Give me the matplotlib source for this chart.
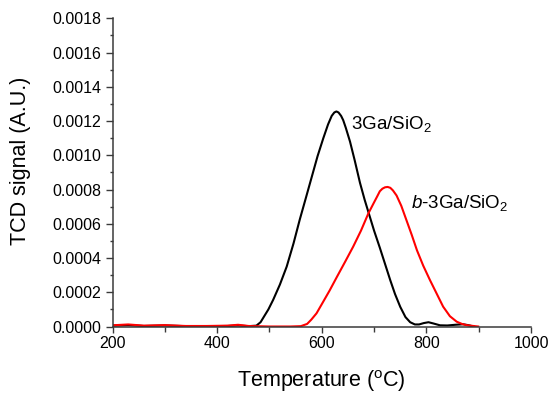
import matplotlib
matplotlib.use("Agg")
import matplotlib.pyplot as plt
import numpy as np
from matplotlib.ticker import MultipleLocator, FormatStrFormatter

plt.rcParams['font.family'] = ['Liberation Sans', 'DejaVu Sans']
plt.rcParams['mathtext.fontset'] = 'custom'
plt.rcParams['mathtext.rm'] = 'Liberation Sans'
plt.rcParams['mathtext.it'] = 'Liberation Sans:italic'

# 3Ga/SiO2 (black)
temp_a = [200, 230, 260, 300, 340, 380, 420, 440, 460, 475, 483, 490, 498, 507, 520,
          533, 546, 558, 570, 581, 592, 603, 612, 619, 624, 628, 632, 637, 641, 646,
          650, 654, 663, 673, 682, 690, 700, 711, 721, 731, 740, 750, 760, 769, 778,
          786, 795, 804, 813, 826, 840, 855, 870, 880, 890]
tcd_a = [0.05, 0.08, 0.03, 0.06, 0.02, 0.02, 0.03, 0.06, 0.02, 0.05, 0.25, 0.6, 1.0, 1.55, 2.45,
         3.5, 4.85, 6.25, 7.55, 8.75, 9.95, 11.0, 11.8, 12.3, 12.5, 12.56, 12.5, 12.3, 12.05, 11.6,
         11.2, 10.8, 9.7, 8.4, 7.4, 6.6, 5.6, 4.6, 3.65, 2.7, 1.9, 1.15, 0.55, 0.25, 0.12,
         0.12, 0.2, 0.25, 0.18, 0.07, 0.06, 0.1, 0.13, 0.08, 0.0]

# b-3Ga/SiO2 (red)
temp_b = [200, 230, 260, 300, 340, 380, 420, 440, 460, 500, 540, 560, 572, 580, 590,
          600, 615, 629, 645, 660, 675, 689, 700, 706, 711, 716, 721, 726, 731, 736,
          743, 752, 762, 772, 782, 794, 807, 820, 832, 845, 858, 868, 877, 890, 899]
tcd_b = [0.07, 0.12, 0.05, 0.08, 0.03, 0.03, 0.05, 0.1, 0.03, 0.0, 0.0, 0.02, 0.15, 0.4, 0.77,
         1.3, 2.1, 2.9, 3.8, 4.66, 5.6, 6.6, 7.25, 7.6, 7.9, 8.05, 8.13, 8.15, 8.1, 7.95,
         7.65, 7.05, 6.2, 5.35, 4.45, 3.55, 2.7, 1.9, 1.16, 0.6, 0.28, 0.15, 0.08, 0.03, 0.0]

scale = 1e-4

fig = plt.figure(figsize=(5.48, 3.96), dpi=100)
ax = fig.add_axes([0.2053, 0.1755, 0.969 - 0.2053, 0.9538 - 0.1755])

ax.plot(temp_a, np.array(tcd_a) * scale, color='black', lw=1.5)
ax.plot(temp_b, np.array(tcd_b) * scale, color='#ff0000', lw=1.5)

ax.set_xlim(200, 1000)
ax.set_ylim(0, 0.0018)
ax.xaxis.set_major_locator(MultipleLocator(200))
ax.xaxis.set_minor_locator(MultipleLocator(100))
ax.yaxis.set_major_locator(MultipleLocator(0.0002))
ax.yaxis.set_minor_locator(MultipleLocator(0.0001))
ax.yaxis.set_major_formatter(FormatStrFormatter('%.4f'))

spine_col = '#3a3a3a'
for s in ['top', 'right']:
    ax.spines[s].set_visible(False)
for s in ['left', 'bottom']:
    ax.spines[s].set_color(spine_col)
    ax.spines[s].set_linewidth(1.1)

ax.tick_params(axis='both', which='both', direction='out', color=spine_col, width=1.0,
               labelsize=11.5, labelcolor='black')
ax.tick_params(axis='x', which='major', length=4.5, pad=2)
ax.tick_params(axis='x', which='minor', length=3.5)
ax.tick_params(axis='y', which='major', length=5, pad=3)
ax.tick_params(axis='y', which='minor', length=2.5)

ax.set_xlabel('Temperature ($^{\\mathrm{o}}$C)', fontsize=15.5, labelpad=13)
ax.set_ylabel('TCD signal (A.U.)', fontsize=15.5)
ax.yaxis.set_label_coords(-0.195, 0.539)

ax.text(655, 0.00118, '3Ga/SiO$_{\\mathrm{2}}$', fontsize=13.5, ha='left', va='center')
ax.text(770, 0.00072, '$\\it{b}$-3Ga/SiO$_{\\mathrm{2}}$', fontsize=13.5, ha='left', va='center')

fig.savefig('out.png', dpi=100)
